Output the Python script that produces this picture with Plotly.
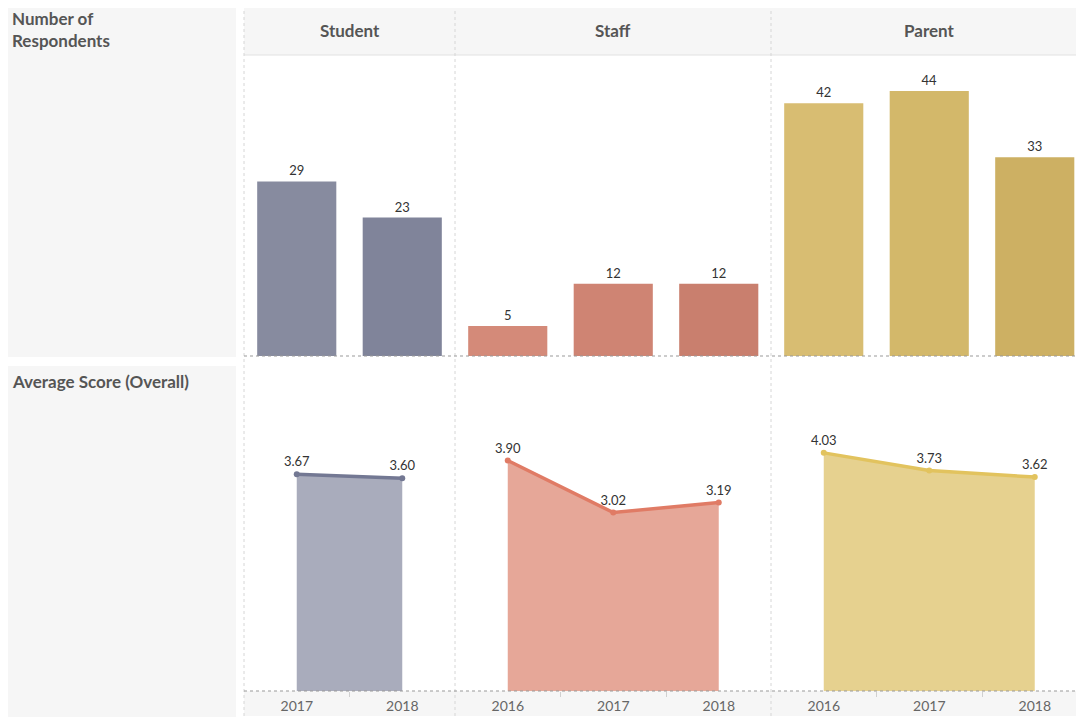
import plotly.graph_objects as go

W, H = 1076, 719

# ---------------- data ----------------
groups = ["Student", "Staff", "Parent"]
years_student = ["2017", "2018"]
years_staff = ["2016", "2017", "2018"]
years_parent = ["2016", "2017", "2018"]

resp_student = [29, 23]
resp_staff = [5, 12, 12]
resp_parent = [42, 44, 33]

score_student = [3.67, 3.60]
score_staff = [3.90, 3.02, 3.19]
score_parent = [4.03, 3.73, 3.62]

row_titles = ["Number of<br>Respondents", "Average Score (Overall)"]

# ---------------- styles ----------------
bar_colors = {
    "Student": ["#878b9f", "#80849a"],
    "Staff": ["#d48a79", "#cf8473", "#c97f6e"],
    "Parent": ["#d8bd72", "#d3b86a", "#cdb063"],
}
fill_colors = {"Student": "rgba(140,144,166,0.75)", "Staff": "rgba(221,138,118,0.75)", "Parent": "rgba(222,194,106,0.75)"}
line_colors = {"Student": "#737893", "Staff": "#e07b65", "Parent": "#e2c35e"}

years = {"Student": years_student, "Staff": years_staff, "Parent": years_parent}
resp = {"Student": resp_student, "Staff": resp_staff, "Parent": resp_parent}
score = {"Student": score_student, "Staff": score_staff, "Parent": score_parent}

def px(x):
    return x / W

def py(y):
    return 1 - y / H

# column pixel extents
col_px = {"Student": (244, 455), "Staff": (455, 771), "Parent": (771, 1076)}
slot = 105.5
TOP = (55, 356)
BOT = (366, 691)

TXT = "Lato"
fig = go.Figure()
layout = dict(
    width=W, height=H, margin=dict(l=0, r=0, t=0, b=0),
    paper_bgcolor="white", plot_bgcolor="rgba(0,0,0,0)",
    showlegend=False, font=dict(family=TXT, color="#555"),
)

shapes = []
annotations = []

# background panels
shapes.append(dict(type="rect", xref="paper", yref="paper", x0=px(8), x1=px(236), y0=py(357), y1=py(8),
                   fillcolor="#f6f6f6", line=dict(width=0), layer="below"))
shapes.append(dict(type="rect", xref="paper", yref="paper", x0=px(8), x1=px(236), y0=py(717), y1=py(366),
                   fillcolor="#f6f6f6", line=dict(width=0), layer="below"))
shapes.append(dict(type="rect", xref="paper", yref="paper", x0=px(244), x1=1, y0=py(55), y1=py(8),
                   fillcolor="#f6f6f6", line=dict(width=0), layer="below"))
shapes.append(dict(type="line", xref="paper", yref="paper", x0=px(244), x1=1, y0=py(55), y1=py(55),
                   line=dict(color="#e2e2e2", width=1)))
shapes.append(dict(type="rect", xref="paper", yref="paper", x0=px(244), x1=1, y0=py(716), y1=py(691),
                   fillcolor="#f6f6f6", line=dict(width=0), layer="below"))

for xs in (244, 455, 771):
    shapes.append(dict(type="line", xref="paper", yref="paper", x0=px(xs), x1=px(xs), y0=py(716), y1=py(8),
                       line=dict(color="#d6d6d6", width=1, dash="dot")))
for yb in (356, 691):
    shapes.append(dict(type="line", xref="paper", yref="paper", x0=px(244), x1=1, y0=py(yb), y1=py(yb),
                       line=dict(color="#999", width=1, dash="dot")))

annotations.append(dict(xref="paper", yref="paper", x=px(10), y=py(6), xanchor="left", yanchor="top",
                        text="<b>" + row_titles[0] + "</b>", showarrow=False, align="left",
                        font=dict(size=17, color="#555", family=TXT)))
annotations.append(dict(xref="paper", yref="paper", x=px(10), y=py(369), xanchor="left", yanchor="top",
                        text="<b>" + row_titles[1] + "</b>", showarrow=False, align="left",
                        font=dict(size=17, color="#555", family=TXT)))

for i, g in enumerate(groups):
    x0p, x1p = col_px[g]
    n = len(years[g])
    rng_hi = -0.5 + (x1p - x0p) / slot
    xi = list(range(n))
    ta = "x" if i == 0 else f"x{i+1}"
    ba = f"x{i+4}"
    ya_t = "y" if i == 0 else f"y{i+1}"
    ya_b = f"y{i+4}"
    # header
    annotations.append(dict(xref="paper", yref="paper", x=px((x0p + x0p + n * slot) / 2), y=py(31),
                            xanchor="center", yanchor="middle", text="<b>" + g + "</b>", showarrow=False,
                            font=dict(size=17, color="#555", family=TXT)))
    # bars
    fig.add_trace(go.Bar(x=xi, y=resp[g], width=0.75, marker=dict(color=bar_colors[g], line=dict(width=0)),
                         text=[str(v) for v in resp[g]], textposition="outside", cliponaxis=False,
                         textfont=dict(size=13, color="#333", family=TXT), xaxis=ta, yaxis=ya_t,
                         hoverinfo="skip"))
    # area
    fig.add_trace(go.Scatter(x=xi, y=score[g], mode="lines+markers+text", fill="tozeroy",
                             fillcolor=fill_colors[g], line=dict(color=line_colors[g], width=3.5),
                             marker=dict(size=6, color=line_colors[g]),
                             text=[f"{v:.2f}" for v in score[g]], textposition="top center",
                             textfont=dict(size=13, color="#333", family=TXT), cliponaxis=False,
                             xaxis=ba, yaxis=ya_b, hoverinfo="skip"))
    dom = [px(x0p), min(1, px(x1p))]
    xcommon = dict(domain=dom, range=[-0.5, rng_hi], showgrid=False, zeroline=False, showline=False,
                   fixedrange=True)
    layout["xaxis" if i == 0 else f"xaxis{i+1}"] = dict(**xcommon, anchor=ya_t, showticklabels=False, ticks="")
    layout[f"xaxis{i+4}"] = dict(**xcommon, anchor=ya_b, tickmode="array", tickvals=xi, ticktext=years[g],
                                 ticks="", tickfont=dict(size=14, color="#666", family=TXT),
                                 minor=dict(tickmode="array", tickvals=[k + 0.5 for k in xi[:-1]],
                                            ticks="outside", ticklen=5, tickcolor="#d0d0d0"),
                                 ticklabelstandoff=5)
    layout["yaxis" if i == 0 else f"yaxis{i+1}"] = dict(domain=[py(TOP[1]), py(TOP[0])], range=[0, 50],
                                                       visible=False, anchor=ta, fixedrange=True)
    layout[f"yaxis{i+4}"] = dict(domain=[py(BOT[1]), py(BOT[0])], range=[0, 5.5], visible=False,
                                 anchor=ba, fixedrange=True)

layout["shapes"] = shapes
layout["annotations"] = annotations
fig.update_layout(**layout)
fig.write_html("out.html")
